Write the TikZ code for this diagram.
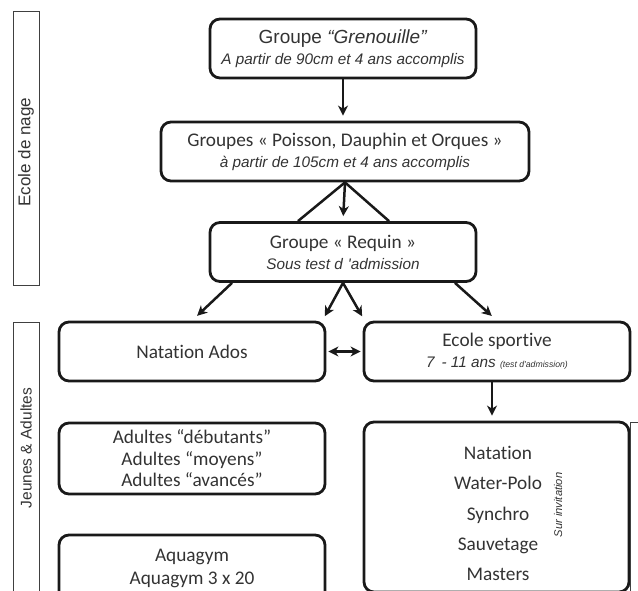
\documentclass[tikz,border=0pt]{standalone}
\usepackage{fontspec}
\setmainfont{Carlito}[Ligatures={NoCommon}]
\newfontfamily\arialfont{Liberation Sans}
\usepackage{tikz}
\usetikzlibrary{calc}
\usetikzlibrary{arrows.meta}
\newcommand{\maintxt}{\fontsize{19.3}{21}\selectfont}
\newcommand{\subtxt}{\arialfont\itshape\fontsize{15.3}{19.5}\selectfont}

\begin{document}
\begin{tikzpicture}[x=1pt,y=-1pt]
\tikzstyle{grp}=[draw=black!90,line width=2.8pt,rounded corners=10pt,shape=rectangle,minimum width=266,minimum height=59,align=center,text=black!80,inner sep=0pt,font=\maintxt]
\tikzstyle{side}=[draw=black!75,line width=0.8pt,shape=rectangle,inner sep=0pt]
\tikzstyle{lbl}=[text=black!80,inner sep=0pt,rotate=90,font=\arialfont]
\tikzstyle{lnk}=[draw=black!90,line width=2.5pt]
\tikzstyle{arr}=[lnk,-{Stealth[length=10pt,width=10pt,inset=3pt]},shorten >=5pt]
\tikzstyle{arr2}=[lnk,{Stealth[length=10pt,width=10pt,inset=3pt]}-{Stealth[length=10pt,width=10pt,inset=3pt]},shorten <=2pt,shorten >=2pt]
%
\useasboundingbox (0,0) rectangle (638,590);
\clip (0,0) rectangle (638,590);
%
\node[side,minimum width=26,minimum height=274](nage) at (26,148){};
\node[side,minimum width=26,minimum height=290](jeu) at (26,467){};
\node[lbl,font=\arialfont\fontsize{17}{17}\selectfont](nagetxt) at (26,152){Ecole de nage};
\node[lbl,font=\arialfont\fontsize{15.5}{16}\selectfont](jeutxt) at (26,448){Jeunes \& Adultes};
%
\node[grp](gren) at (343,48.5){\arialfont\fontsize{19}{19}\selectfont Groupe \textit{“Grenouille”}\\ \subtxt A partir de 90cm et 4 ans accomplis};
\node[grp,minimum width=368](poi) at (345,151.5){Groupes « Poisson, Dauphin et Orques »\\ \subtxt à partir de 105cm et 4 ans accomplis};
\node[grp](req) at (343,252){Groupe « Requin »\\ \subtxt Sous test d\hspace{5pt}'admission};
%
\node[grp](ados) at (192,351.5){Natation Ados};
\node[grp](spo) at (497,351.5){Ecole sportive\\ \subtxt 7\hspace{7pt}- 11 ans {\fontsize{8.7}{9}\selectfont (test d'admission)}};
\node[grp,minimum height=71,font=\fontsize{19.3}{21.5}\selectfont](adu) at (192,458.5){Adultes “débutants”\\Adultes “moyens”\\Adultes “avancés”};
\node[grp,minimum height=67,font=\fontsize{19.3}{23}\selectfont](aqua) at (192,568.5){Aquagym\\Aquagym 3 x 20};
%
\node[grp,minimum width=265,minimum height=170](comp) at (496.5,507){};
\node[align=center,text=black!80,inner sep=0pt,font=\fontsize{19.3}{30.2}\selectfont](lst) at (498,513.5){Natation\\Water-Polo\\Synchro\\Sauvetage\\Masters};
\node[lbl,font=\arialfont\itshape\fontsize{11.2}{12}\selectfont](inv) at (558,505){Sur invitation};
\node[side,minimum width=30,minimum height=170](cpt) at (645,507){};
%
\draw[arr] (gren.south) -- (gren.south |- poi.north);
%
\draw[lnk] (poi.south) -- ($(req.north)+(-45,0)$);
\draw[arr] (poi.south) -- (req.north);
\draw[lnk] (poi.south) -- ($(req.north)+(46,0)$);
%
\draw[arr,shorten >=7pt] ($(req.south)+(-111,0)$) -- (ados.north);
\draw[arr] (req.south) -- ($(ados.north east)+(-4,0)$);
\draw[arr] (req.south) -- ($(spo.north west)+(2,0)$);
\draw[arr,shorten >=7pt] ($(req.south)+(112,0)$) -- (spo.north);
%
\draw[arr2] (ados.east) -- (spo.west);
%
\coordinate (spos) at ($(spo.south)+(-5,0)$);
\draw[arr] (spos) -- (spos |- comp.north);
\end{tikzpicture}
\end{document}
